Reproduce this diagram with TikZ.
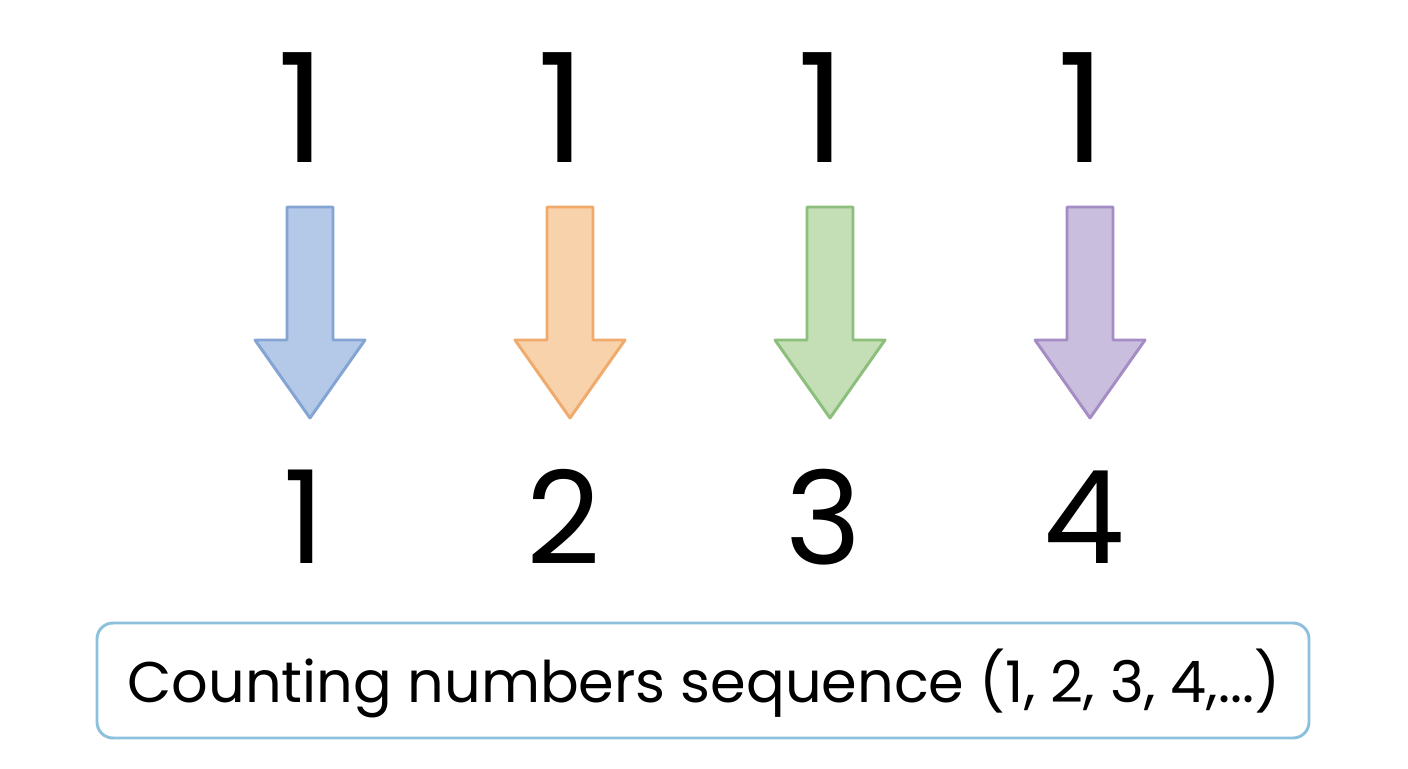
\documentclass[tikz,border=0pt]{standalone}
\usepackage{fontspec}
\setmainfont{Poppins}
\definecolor{blueFill}{HTML}{B4C8E8}\definecolor{blueLine}{HTML}{84A4D4}
\definecolor{orangeFill}{HTML}{F8D2AA}\definecolor{orangeLine}{HTML}{F0AA6C}
\definecolor{greenFill}{HTML}{C4DEB6}\definecolor{greenLine}{HTML}{8CBE7C}
\definecolor{purpleFill}{HTML}{CABEDE}\definecolor{purpleLine}{HTML}{A48CC4}
\definecolor{boxLine}{HTML}{8CC0DC}
\tikzset{every picture/.style={line width=0.75pt},
  topnum/.style={inner sep=0pt,font=\fontsize{114}{114}\selectfont},
  botnum/.style={inner sep=0pt,font=\fontsize{97}{97}\selectfont},
  blockarrow/.style={line width=2.2pt,line join=round}}
\newcommand{\blockarrow}[3]{%
  \draw[blockarrow,draw=#2,fill=#3] ($(#1)+(-23,207)$) -- ($(#1)+(23,207)$) -- ($(#1)+(23,340)$) -- ($(#1)+(55,340)$) -- ($(#1)+(0,418)$) -- ($(#1)+(-55,340)$) -- ($(#1)+(-23,340)$) -- cycle;}
\usetikzlibrary{calc}
\begin{document}
\begin{tikzpicture}[x=0.75pt,y=0.75pt,yscale=-1,xscale=1]
    \useasboundingbox (0,0) rectangle (1408,768);

    % column anchors
    \coordinate (c1) at (310,0);
    \coordinate (c2) at (570,0);
    \coordinate (c3) at (830,0);
    \coordinate (c4) at (1090,0);

    % Top numbers
    \foreach \i in {1,...,4}
      \node[topnum] (top\i) at ($(c\i)+(-8,108)$) {1};

    % Arrows
    \blockarrow{c1}{blueLine}{blueFill}
    \blockarrow{c2}{orangeLine}{orangeFill}
    \blockarrow{c3}{greenLine}{greenFill}
    \blockarrow{c4}{purpleLine}{purpleFill}

    % Bottom numbers
    \foreach \i/\n in {1/1,2/2,3/3,4/4}
      \node[botnum] (bot\i) at ($(c\i)+(-6,517)$) {\n};

    % Caption box
    \draw[boxLine,line width=2.2pt,rounded corners=12] (97,623) rectangle (1309,738);
    \node[inner sep=0pt,font=\fontsize{43}{43}\selectfont] (caption) at (704,683) {Counting numbers sequence (1, 2, 3, 4,...)};
\end{tikzpicture}
\end{document}
